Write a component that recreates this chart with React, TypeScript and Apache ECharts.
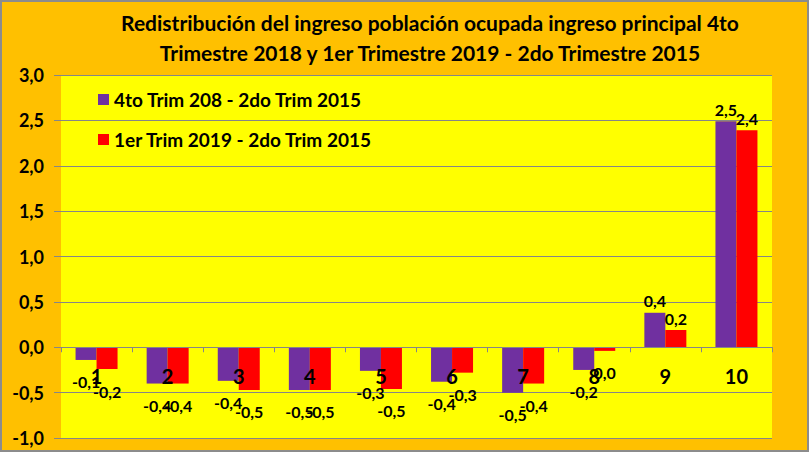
import * as echarts from "echarts";
import { useEffect, useRef } from "react";

const categories = ["1", "2", "3", "4", "5", "6", "7", "8", "9", "10"];
const seriesNames = ["4to Trim 208 - 2do Trim 2015", "1er Trim 2019 - 2do Trim 2015"];
const trim4Values = [-0.14, -0.4, -0.37, -0.47, -0.26, -0.38, -0.5, -0.25, 0.38, 2.49];
const trim1Values = [-0.24, -0.4, -0.47, -0.47, -0.46, -0.28, -0.4, -0.04, 0.19, 2.39];
const yTicks = { min: -1, max: 3, interval: 0.5 };

const FONT = "Lato";
const GRID = { left: 59, right: 35, top: 73, bottom: 12 };
const CHART_H = 448;

const fmt = (v: number) => {
  const r = Math.round(v * 10) / 10;
  const s = (Object.is(r, -0) || r === 0 ? 0 : r).toFixed(1);
  return s.replace(".", ",");
};

const toData = (vals: number[]) =>
  vals.map((v) => ({
    value: v,
    label: {
      position: v < 0 ? "bottom" : "top",
      distance: v < 0 ? 14 : 4,
    },
  }));

const App = () => {
  const chartRef = useRef<HTMLDivElement>(null);

  useEffect(() => {
    document.body.style.margin = "0";
    const chart = echarts.init(chartRef.current, null, { renderer: "svg" });
    // the category axis sits on the zero line: shift it up from the grid bottom
    const plotH = CHART_H - GRID.top - GRID.bottom;
    const zeroOffset = ((0 - yTicks.min) / (yTicks.max - yTicks.min)) * plotH;
    const labelStyle = {
      show: true,
      formatter: (p: any) => fmt(p.value),
      fontFamily: FONT,
      fontWeight: "bold" as const,
      fontSize: 16,
      color: "#000",
    };
    chart.setOption({
      animation: false,
      backgroundColor: "#FFC000",
      title: {
        text: "Redistribución del ingreso población ocupada ingreso principal 4to\nTrimestre 2018 y 1er Trimestre 2019 - 2do Trimestre 2015",
        left: 423,
        top: 0,
        textAlign: "center",
        textStyle: {
          fontFamily: FONT,
          fontWeight: "bold",
          fontSize: 21,
          lineHeight: 30,
          color: "#000",
        },
      },
      legend: {
        orient: "vertical",
        left: 91,
        top: 83,
        itemWidth: 11,
        itemHeight: 11,
        itemGap: 21,
        icon: "rect",
        textStyle: {
          fontFamily: FONT,
          fontWeight: "bold",
          fontSize: 19,
          color: "#000",
        },
      },
      grid: {
        ...GRID,
        outerBoundsMode: "none",
        containLabel: false,
        show: true,
        backgroundColor: "#FFFF00",
        borderWidth: 0,
      },
      xAxis: {
        type: "category",
        data: categories,
        position: "bottom",
        offset: -zeroOffset,
        axisLine: { onZero: false, lineStyle: { color: "#868686", width: 1 } },
        axisTick: { show: true, length: 5, lineStyle: { color: "#868686" } },
        axisLabel: {
          margin: 19,
          fontFamily: FONT,
          fontWeight: "bold",
          fontSize: 20,
          color: "#000",
        },
        z: 10,
      },
      yAxis: {
        type: "value",
        min: yTicks.min,
        max: yTicks.max,
        interval: yTicks.interval,
        axisLine: { show: false },
        axisTick: { show: true, length: 7, lineStyle: { color: "#868686" } },
        splitLine: { lineStyle: { color: "#868686", width: 1 } },
        axisLabel: {
          formatter: (v: number) => v.toFixed(1).replace(".", ","),
          fontFamily: FONT,
          fontWeight: "bold",
          fontSize: 18,
          color: "#000",
          margin: 17,
        },
      },
      series: [
        {
          name: seriesNames[0],
          type: "bar",
          data: toData(trim4Values),
          barWidth: 21,
          barGap: "0%",
          itemStyle: { color: "#7030A0" },
          label: labelStyle,
        },
        {
          name: seriesNames[1],
          type: "bar",
          data: toData(trim1Values),
          barWidth: 21,
          barGap: "0%",
          itemStyle: { color: "#FF0000" },
          label: labelStyle,
        },
      ],
    });
    return () => {
      chart.dispose();
    };
  }, []);

  return (
    <div
      style={{
        width: 809,
        height: 452,
        boxSizing: "border-box",
        border: "2px solid #8C8C8C",
        background: "#FFC000",
      }}
    >
      <div ref={chartRef} style={{ width: 805, height: CHART_H }}></div>
    </div>
  );
};

export default App;
